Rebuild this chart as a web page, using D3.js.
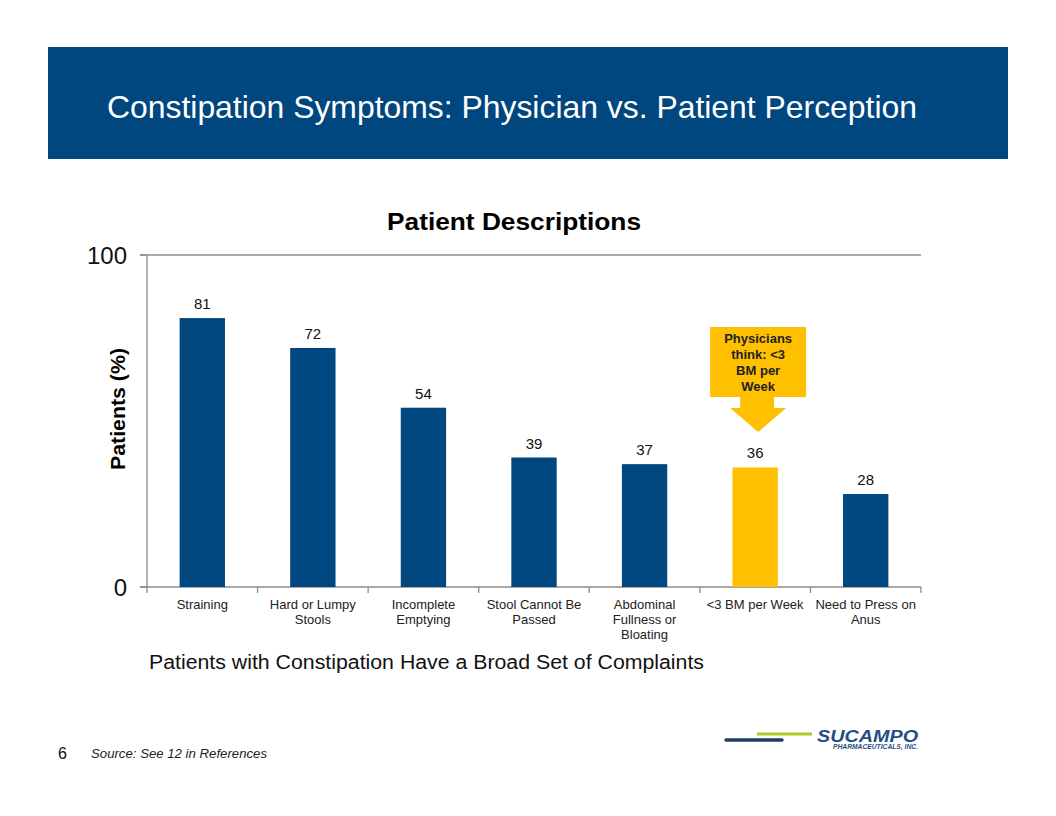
<!DOCTYPE html>
<html><head><meta charset="utf-8">
<script src="https://cdn.jsdelivr.net/npm/d3@7"></script>
<style>body{margin:0;background:#fff;} svg{display:block;font-family:Arial,"Liberation Sans",sans-serif;}</style>
</head><body>
<svg id="c" width="1056" height="816"></svg>
<script>
const categories = [["Straining"],["Hard or Lumpy","Stools"],["Incomplete","Emptying"],["Stool Cannot Be","Passed"],["Abdominal","Fullness or","Bloating"],["<3 BM per Week"],["Need to Press on","Anus"]];
const values = [81,72,54,39,37,36,28];
const highlight = [false,false,false,false,false,true,false];
const yTicks = [0,100];
const calloutLines = ["Physicians","think: <3","BM per","Week"];

const svg = d3.select("#c");
const blue = "#00467F", yellow = "#FFC000";

// banner
svg.append("rect").attr("x",48).attr("y",47).attr("width",960).attr("height",112).attr("fill",blue);
svg.append("text").attr("x",107).attr("y",118).attr("fill","#fff").attr("font-size",31.5)
  .attr("textLength",810).attr("lengthAdjust","spacingAndGlyphs")
  .text("Constipation Symptoms: Physician vs. Patient Perception");

const x = d3.scaleBand().domain(d3.range(values.length)).range([147,921]).paddingInner(0.59).paddingOuter(0.295);
const y = d3.scaleLinear().domain([0,100]).range([587,255]);

// chart title
svg.append("text").attr("x",514).attr("y",230).attr("text-anchor","middle").attr("font-size",23)
  .attr("font-weight","bold").attr("textLength",254).attr("lengthAdjust","spacingAndGlyphs").text("Patient Descriptions");

// top gridline
svg.append("line").attr("x1",140).attr("x2",921).attr("y1",y(100)).attr("y2",y(100)).attr("stroke","#8c8c8c").attr("stroke-width",1.3);

// y axis
svg.append("line").attr("x1",147).attr("x2",147).attr("y1",y(100)).attr("y2",y(0)).attr("stroke","#8c8c8c").attr("stroke-width",1.3);
svg.selectAll(".yt").data(yTicks).enter().append("text").attr("x",127).attr("y",d=>y(d)+9).attr("text-anchor","end").attr("font-size",24).attr("fill","#111").text(d=>d);
svg.selectAll(".ytm").data(yTicks).enter().append("line").attr("x1",140).attr("x2",147).attr("y1",d=>y(d)).attr("y2",d=>y(d)).attr("stroke","#8c8c8c").attr("stroke-width",1.3);

// x axis
svg.append("line").attr("x1",140).attr("x2",921).attr("y1",y(0)).attr("y2",y(0)).attr("stroke","#8c8c8c").attr("stroke-width",1.3);
const step = x.step();
svg.selectAll(".xtm").data(d3.range(values.length+1)).enter().append("line")
  .attr("x1",d=>147+d*step).attr("x2",d=>147+d*step).attr("y1",y(0)).attr("y2",y(0)+6).attr("stroke","#8c8c8c").attr("stroke-width",1.3);

// bars
svg.selectAll(".bar").data(values).enter().append("rect")
  .attr("x",(d,i)=>x(i)).attr("width",x.bandwidth()).attr("y",d=>y(d)).attr("height",d=>y(0)-y(d))
  .attr("fill",(d,i)=>highlight[i]?yellow:blue);

// value labels
svg.selectAll(".vl").data(values).enter().append("text")
  .attr("x",(d,i)=>x(i)+x.bandwidth()/2).attr("y",d=>y(d)-9).attr("text-anchor","middle").attr("font-size",15).attr("fill","#111").text(d=>d);

// category labels
categories.forEach((lines,i)=>{
  const t = svg.append("text").attr("text-anchor","middle").attr("font-size",13).attr("fill","#222");
  lines.forEach((l,j)=>t.append("tspan").attr("x",x(i)+x.bandwidth()/2).attr("y",609+j*15).text(l));
});

// y axis title
svg.append("text").attr("transform","translate(125,409) rotate(-90)").attr("text-anchor","middle").attr("font-size",20).attr("font-weight","bold")
  .attr("textLength",122).attr("lengthAdjust","spacingAndGlyphs").text("Patients (%)");

// callout
const hi = highlight.indexOf(true);
const cx = x(hi)+x.bandwidth()/2 + 3;
svg.append("rect").attr("x",cx-48).attr("y",327).attr("width",96).attr("height",70).attr("fill",yellow);
svg.append("path").attr("d",`M${cx-18},396 L${cx+16},396 L${cx+16},408 L${cx+28},408 L${cx},432 L${cx-28},408 L${cx-18},408 Z`).attr("fill",yellow);
const ct = svg.append("text").attr("text-anchor","middle").attr("font-size",13).attr("font-weight","bold").attr("fill","#222");
calloutLines.forEach((l,j)=>ct.append("tspan").attr("x",cx).attr("y",343+j*16).text(l));

// subtitle
svg.append("text").attr("x",149).attr("y",669).attr("font-size",20).attr("fill","#111")
  .attr("textLength",555).attr("lengthAdjust","spacingAndGlyphs").text("Patients with Constipation Have a Broad Set of Complaints");

// footer
svg.append("text").attr("x",58).attr("y",759).attr("font-size",16).attr("fill","#111").text("6");
svg.append("text").attr("x",91).attr("y",758).attr("font-size",13).attr("font-style","italic").attr("fill","#222")
  .attr("textLength",176).attr("lengthAdjust","spacingAndGlyphs").text("Source: See 12 in References");

// logo
svg.append("line").attr("x1",726).attr("x2",782).attr("y1",740).attr("y2",740).attr("stroke","#1f3f66").attr("stroke-width",3.5).attr("stroke-linecap","round");
svg.append("line").attr("x1",757).attr("x2",812).attr("y1",734).attr("y2",734).attr("stroke","#b5c42a").attr("stroke-width",3);
svg.append("text").attr("x",817).attr("y",742).attr("font-size",16).attr("font-weight","bold").attr("font-style","italic").attr("fill","#1f4f86").attr("textLength",101).attr("lengthAdjust","spacingAndGlyphs").text("SUCAMPO");
svg.append("text").attr("x",833).attr("y",749).attr("font-size",6.5).attr("font-weight","bold").attr("font-style","italic").attr("fill","#1f4f86").attr("textLength",85).attr("lengthAdjust","spacingAndGlyphs").text("PHARMACEUTICALS, INC.");
</script>
</body></html>
